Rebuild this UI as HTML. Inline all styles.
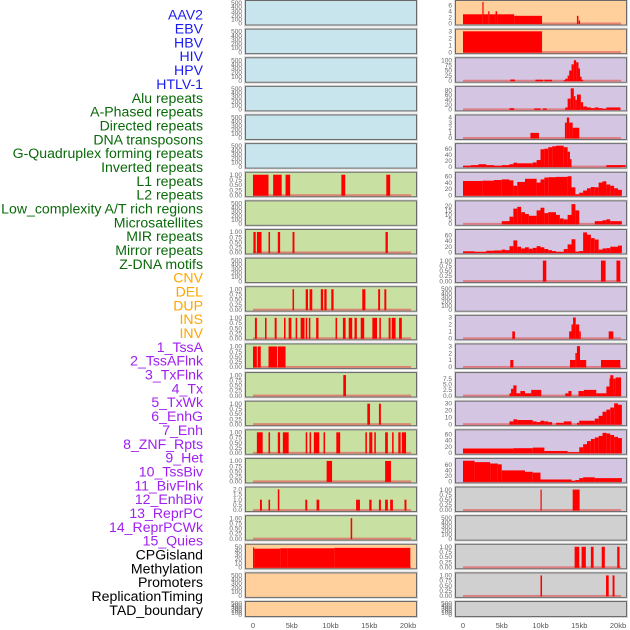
<!DOCTYPE html>
<html><head><meta charset="utf-8">
<style>
html,body{margin:0;padding:0;background:#fff;width:630px;height:630px;overflow:hidden}
svg{display:block}
.lab{font-family:"Liberation Sans",sans-serif;font-size:14.1px}
.tk{font-family:"Liberation Sans",sans-serif;font-size:6.5px;fill:#666}
.ax{font-family:"Liberation Sans",sans-serif;font-size:7.5px;fill:#555}
</style></head>
<body>
<svg id="chart" width="630" height="630"></svg>
<script>
// ---- data ----
const trackNames = ["AAV2","EBV","HBV","HIV","HPV","HTLV-1","Alu repeats","A-Phased repeats","Directed repeats","DNA transposons","G-Quadruplex forming repeats","Inverted repeats","L1 repeats","L2 repeats","Low_complexity A/T rich regions","Microsatellites","MIR repeats","Mirror repeats","Z-DNA motifs","CNV","DEL","DUP","INS","INV","1_TssA","2_TssAFlnk","3_TxFlnk","4_Tx","5_TxWk","6_EnhG","7_Enh","8_ZNF_Rpts","9_Het","10_TssBiv","11_BivFlnk","12_EnhBiv","13_ReprPC","14_ReprPCWk","15_Quies","CPGisland","Methylation","Promoters","ReplicationTiming","TAD_boundary"];
const trackGroups = ["v","v","v","v","v","v","r","r","r","r","r","r","r","r","r","r","r","r","r","c","c","c","c","c","s","s","s","s","s","s","s","s","s","s","s","s","s","s","s","o","o","o","o","o"];
const xTickValues = [0,5,10,15,20];
const xTickLabels = ["0","5kb","10kb","15kb","20kb"];

const ticks500 = [0,100,200,300,400,500];
const ticks01 = [0,0.25,0.5,0.75,1];

// left column segments [startKb, endKb, value]
const segL7 = [[0,2.0,1],[2.6,3.7,1],[4.2,4.8,1],[11.4,11.9,1],[17.2,17.7,1]];
const segL9 = [[0.05,0.35,1],[0.5,1.1,1],[2.0,2.2,1],[3.2,3.5,1],[5.1,5.35,1],[17.1,17.4,1]];
const segL11 = [[5.1,5.3,1],[6.8,7.1,1],[7.3,7.65,1],[8.75,9.05,1],[9.2,9.5,1],[10.1,10.4,1],[14.1,14.5,1],[16.15,16.4,1],[16.95,17.2,1]];
const segL12 = [[0.25,0.5,1],[1.55,1.75,1],[2.8,3.05,1],[4.0,4.2,1],[4.6,4.95,1],[5.5,5.7,1],[6.15,6.65,1],[6.8,7.0,1],[7.2,7.4,1],[8.15,8.45,1],[10.65,10.85,1],[11.6,11.95,1],[12.35,12.8,1],[13.1,13.4,1],[13.9,14.35,1],[15.4,16.0,1],[16.3,16.5,1],[17.5,17.75,1],[17.9,18.4,1],[18.85,19.2,1]];
const segL13 = [[0,0.5,1],[0.6,1.0,1],[2.0,3.1,1],[3.2,4.2,1]];
const segL14 = [[11.65,12.0,1]];
const segL15 = [[14.75,15.1,1],[16.25,16.5,1]];
const segL16 = [[0.5,1.25,1],[2.0,2.2,1],[3.2,3.5,1],[3.85,4.6,1],[6.8,7.0,1],[7.3,7.5,1],[7.85,8.55,1],[9.1,9.3,1],[10.75,11.25,1],[14.5,14.7,1],[15.0,15.4,1],[15.65,15.85,1],[17.05,17.4,1],[17.95,18.15,1],[18.75,19.05,1],[19.2,19.75,1]];
const segL17 = [[9.5,10.2,1],[17.05,17.8,1]];
const segL18 = [[0.9,1.15,1],[2.0,2.2,1],[3.2,3.4,2],[6.75,7.0,1],[8.2,8.55,1],[13.3,13.8,1],[15.0,15.3,1],[16.25,16.5,1],[17.05,17.4,1],[17.7,18.05,1],[19.55,19.8,1]];
const segL19 = [[12.6,12.8,1]];
const segL20 = [[0,0.15,48],[0.15,3.5,45],[3.5,4.5,46],[4.5,10.5,46],[10.5,20.3,47]];

// right column segments
const segR1 = [[0,2.5,3],[2.5,2.65,7],[2.65,3.25,3],[3.25,3.4,4],[3.4,4.2,3],[4.2,4.4,4],[4.4,6.6,3],[6.6,10.2,2.5],[14.7,14.9,2.5],[14.95,15.1,1]];
const segR2 = [[0,10.2,3]];
const segR3 = [[6.1,6.7,6],[9.35,10.35,5],[10.5,11.5,5],[13.0,13.2,3],[13.2,13.5,10],[13.5,13.7,25],[13.7,14.0,50],[14.0,14.3,80],[14.3,14.6,100],[14.6,14.9,90],[14.9,15.1,60],[15.1,15.3,20],[15.3,15.5,5]];
const segR4 = [[6.0,6.6,5],[9.2,10.0,4],[10.3,10.8,4],[13.2,13.5,8],[13.5,13.9,45],[13.9,14.3,88],[14.3,14.5,55],[14.5,14.7,40],[14.7,15.2,62],[15.2,15.5,30],[15.5,16.0,12],[16.0,16.5,8],[16.5,17,5],[17,17.5,8],[17.5,18,5],[18,18.5,2],[18.5,20.3,8]];
const segR5 = [[8.7,9.8,1],[13.15,13.4,3],[13.4,13.7,4],[13.7,14.15,3],[14.15,15.0,2]];
const segR6 = [[0,1,3],[1,2,5],[2,3,8],[3,4,5],[4,5,3],[5,6,5],[6,6.5,8],[6.5,7,13],[7,9,11],[9,9.5,14],[9.5,10,22],[10,10.5,58],[10.5,11,60],[11,11.5,65],[11.5,12,68],[12,13,70],[13,13.5,65],[13.5,13.8,50],[13.8,14,25],[18.5,21,5]];
const segR7 = [[0,2.5,45],[2.5,4,46],[4,5,48],[5,6,50],[6,6.5,47],[6.5,7,30],[7,8,42],[8,9.5,52],[9.5,10,40],[10,10.5,50],[10.5,11,56],[11,12,57],[12,13.5,58],[13.5,14,60],[14,14.5,25],[14.5,15,3],[15,15.5,8],[15.5,16,15],[16,16.5,22],[16.5,17,26],[17,17.5,25],[17.5,18,40],[18,18.5,44],[18.5,19,34],[19,19.5,30],[19.5,20,22],[20,20.5,17]];
const segR8 = [[5,6,3],[6,6.5,8],[6.5,7,17],[7,7.5,19],[7.5,8,13],[8,8.5,11],[8.5,9.5,9],[9.5,10,15],[10,10.5,18],[10.5,11,12],[11,12,13],[12,12.5,10],[12.5,13,6],[13,13.5,5],[13.5,14,10],[14,14.5,22],[14.5,15,15],[17,18,3],[18,18.5,4],[18.5,19,5],[19,20.5,3]];
const segR9 = [[0,1.5,4],[1.5,3,2],[3,4,6],[4,5,7],[5,5.5,10],[5.5,6,8],[6,6.5,22],[6.5,7,42],[7,7.5,20],[7.5,8,14],[8,8.5,18],[8.5,9,13],[9,9.5,16],[9.5,10,22],[10,10.5,18],[10.5,11,12],[11,11.5,8],[11.5,12,5],[12,13,2],[13,13.5,12],[13.5,14,28],[14,14.5,46],[14.5,15,3],[15,15.5,5],[15.5,16,70],[16,16.5,62],[16.5,17,50],[17,17.5,45],[17.5,18,10],[18,18.5,14],[18.5,19,15],[19,20,20],[20,20.5,24]];
const segR10 = [[10.3,10.75,1],[17.8,18.4,1],[19.8,20.3,1]];
const segR12 = [[6.36,6.7,1],[13.7,14.0,1],[14.0,14.2,2],[14.2,14.55,3],[14.55,15.0,2],[15.0,15.2,1],[18.8,19.4,1]];
const segR13 = [[6.1,6.5,1],[13.8,14.5,1],[14.5,14.7,2],[14.7,15.1,3],[15.1,15.9,1],[17.8,20.3,1]];
const segR14 = [[6.0,6.2,1],[6.2,6.5,3],[6.5,6.9,4.5],[6.9,7.4,1],[7.4,8.0,2],[8.0,8.8,1],[8.8,10.1,2.5],[13.2,13.6,1],[13.6,14.0,2],[14.9,15.6,2],[15.6,17.2,2.5],[17.2,17.8,1],[17.8,18.5,1],[18.5,18.9,4],[18.9,19.0,7.5],[19.0,19.4,9],[19.4,19.7,7.5],[19.7,20.4,8]];
const segR15 = [[6.0,6.5,4],[6.5,7,7],[7,9,6],[9,9.5,4],[9.5,10,3],[10,10.5,5],[10.5,11,4],[11,11.5,3],[12,13,2],[13,14,4],[14.7,15,2],[15,17,5],[17,17.5,8],[17.5,18,12],[18,18.5,18],[18.5,19,21],[19,19.5,24],[19.5,20,30],[20,20.5,28]];
const segR16 = [[0,6.5,14],[6.5,9,15],[9,10.5,17],[10.5,13.5,6],[13.5,15,2],[15,15.5,18],[15.5,16,28],[16,16.5,38],[16.5,17,45],[17,17.5,50],[17.5,18,55],[18,18.5,65],[18.5,19,63],[19,19.5,58],[19.5,20,52],[20,20.5,48]];
const segR17 = [[0,1.5,75],[1.5,3.5,70],[3.5,4.5,65],[4.5,5,62],[5,8,40],[8,9,35],[9,10,32],[10,14,7],[14,14.5,2],[14.5,15,5],[15,15.5,12],[15.5,17,15],[17,20.5,12]];
const segR18 = [[10.0,10.15,1],[14.15,15.05,1]];
const segR20 = [[14.4,15.0,1],[15.3,15.85,1],[16.5,16.85,1],[17.9,18.3,1],[19.9,20.2,1]];
const segR21 = [[10.0,10.2,1],[18.45,18.8,1],[19.3,19.55,1]];

const f2 = v=>v.toFixed(2), f1=v=>v.toFixed(1), f0=v=>String(v);
const P = [];
const bgB="#c8e4ec", bgO="#ffd09c", bgG="#c8e0a2", bgP="#d4c6e2", bgS="#d0d0d0";
for(let r=0;r<6;r++) P.push([0,r,bgB,null,520,ticks500,f0]);
P.push([0,6,bgG,segL7,1.05,ticks01,f2]);
P.push([0,7,bgG,null,520,ticks500,f0]);
P.push([0,8,bgG,segL9,1.05,ticks01,f2]);
P.push([0,9,bgG,null,520,ticks500,f0]);
P.push([0,10,bgG,segL11,1.05,ticks01,f2]);
P.push([0,11,bgG,segL12,1.05,ticks01,f2]);
P.push([0,12,bgG,segL13,1.05,ticks01,f2]);
P.push([0,13,bgG,segL14,1.05,ticks01,f2]);
P.push([0,14,bgG,segL15,1.05,ticks01,f2]);
P.push([0,15,bgG,segL16,1.05,ticks01,f2]);
P.push([0,16,bgG,segL17,1.05,ticks01,f2]);
P.push([0,17,bgG,segL18,2.08,[0,0.5,1,1.5,2],f1]);
P.push([0,18,bgG,segL19,1.05,ticks01,f2]);
P.push([0,19,bgO,segL20,52,[0,10,20,30,40,50],f0]);
P.push([0,20,bgO,null,520,ticks500,f0]);
P.push([0,21,bgO,null,520,ticks500,f0]);
P.push([1,0,bgO,segR1,7,[0,2,4,6],f0]);
P.push([1,1,bgO,segR2,3.1,[0,1,2,3],f0]);
P.push([1,2,bgP,segR3,105,[0,25,50,75,100],f0]);
P.push([1,3,bgP,segR4,90,[0,20,40,60,80],f0]);
P.push([1,4,bgP,segR5,4.2,[0,1,2,3,4],f0]);
P.push([1,5,bgP,segR6,72,[0,20,40,60],f0]);
P.push([1,6,bgP,segR7,68,[0,20,40,60],f0]);
P.push([1,7,bgP,segR8,24,[0,5,10,15,20],f0]);
P.push([1,8,bgP,segR9,75,[0,20,40,60],f0]);
P.push([1,9,bgP,segR10,1.05,ticks01,f2]);
P.push([1,10,bgP,null,520,ticks500,f0]);
P.push([1,11,bgP,segR12,3.1,[0,1,2,3],f0]);
P.push([1,12,bgP,segR13,3.1,[0,1,2,3],f0]);
P.push([1,13,bgP,segR14,9.5,[0,2.5,5,7.5],f1]);
P.push([1,14,bgP,segR15,31,[0,10,20,30],f0]);
P.push([1,15,bgP,segR16,70,[0,20,40,60],f0]);
P.push([1,16,bgP,segR17,78,[0,20,40,60],f0]);
P.push([1,17,bgS,segR18,1.05,ticks01,f2]);
P.push([1,18,bgS,null,520,ticks500,f0]);
P.push([1,19,bgS,segR20,1.05,ticks01,f2]);
P.push([1,20,bgS,segR21,1.05,ticks01,f2]);
P.push([1,21,bgS,null,520,ticks500,f0]);

// ---- drawing ----
const NS="http://www.w3.org/2000/svg";
const svg=document.getElementById('chart');
function mk(tag,attrs,parent){const e=document.createElementNS(NS,tag);for(const k in attrs)e.setAttribute(k,attrs[k]);(parent||svg).appendChild(e);return e;}
const colX=[245.5,455.5], colW=171, x0=[253,463], kx=7.75;
const rowTop=r=>0.5+r*28.62;
const rowH=r=>r===21?15:24.5;
const xs=(c,kb)=>x0[c]+kb*kx;

const colors={v:"#1c1cf0",r:"#0a6a0a",c:"#ffa500",s:"#a020f0",o:"#000"};
trackNames.forEach((n,i)=>{
  const t=mk('text',{x:203,y:16+i*13.84,'text-anchor':'end','dominant-baseline':'middle','class':'lab',fill:colors[trackGroups[i]]});
  
  
  t.textContent=n;
});

P.forEach(p=>{
  const [c,r,bg,segs,ymax,ticks,fmt]=p;
  const top=rowTop(r), h=rowH(r), bot=top+h;
  const g=mk('g',{});
  
  
  mk('rect',{x:colX[c]-1,y:top-1,width:colW+2,height:h+2,fill:'none',stroke:'#d8d8d8','stroke-width':1},g);
  mk('rect',{x:colX[c],y:top,width:colW,height:h,fill:bg,stroke:'#6a6a6a','stroke-width':1},g);
  const ys=v=>bot-1.5-v/ymax*(h-3);
  ticks.forEach(v=>{
    const t=mk('text',{x:colX[c]-3.5,y:ys(v)+2.2,'text-anchor':'end','class':'tk'},g);
    
    
    t.textContent=fmt(v);
  });
  if(segs){
    const bl=mk('rect',{x:xs(c,0),y:bot-2.5,width:20.4*kx,height:2,fill:'#e06060',opacity:0.7},g);
    
    
    segs.forEach(s=>{
      const y=ys(s[2]);
      const b=mk('rect',{x:xs(c,s[0]),y:y,width:Math.max(1.2,(s[1]-s[0])*kx),height:bot-1-y,fill:'#ff0000'},g);
      
      
    });
  }
});

[0,1].forEach(c=>{
  xTickValues.forEach((v,i)=>{
    const t=mk('text',{x:xs(c,v),y:628,'text-anchor':'middle','class':'ax'});
    
    
    t.textContent=xTickLabels[i];
  });
});
</script>
</body></html>
